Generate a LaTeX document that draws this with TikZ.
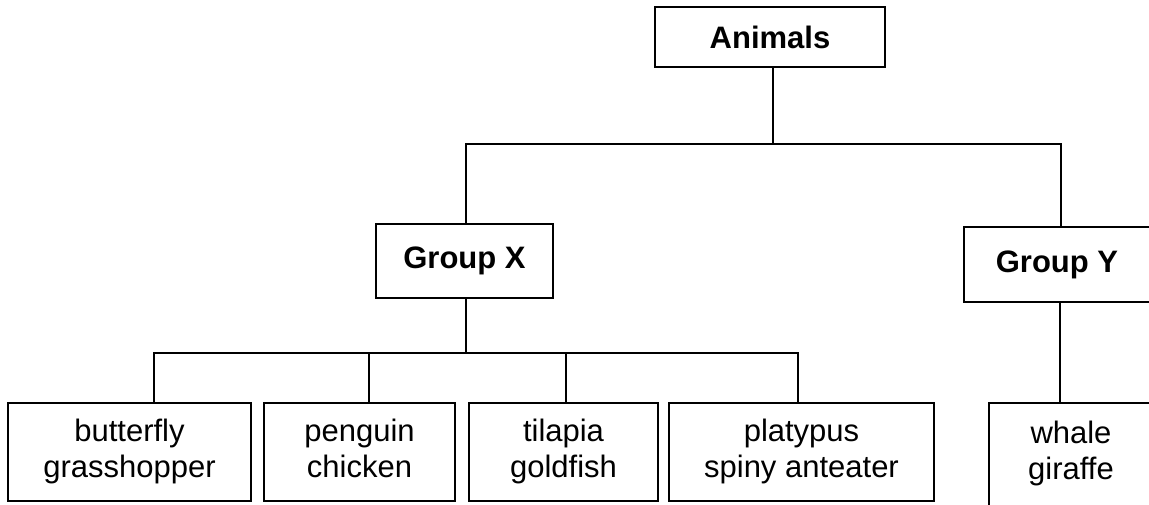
\documentclass[tikz,border=0pt]{standalone}
\usepackage{fontspec}
\setmainfont{Liberation Sans}
\begin{document}
\begin{tikzpicture}[x=1pt,y=-1pt,
  box/.style={draw, line width=1.8pt, rectangle, inner sep=0pt, align=center},
  bold/.style={box, font=\fontsize{31}{36}\selectfont\bfseries},
  leaf/.style={box, font=\fontsize{31}{36}\selectfont, minimum height=98pt},
  conn/.style={line width=1.8pt}]
\useasboundingbox (0,0) rectangle (1149,504);
\clip (0,0) rectangle (1149,504);
\fill[white] (0,0) rectangle (1149,504);
% nodes
\node[bold, minimum width=230pt, minimum height=60pt] (animals) at (770,37) {Animals};
\node[bold, minimum width=177pt, minimum height=74pt] (gx) at (464.5,261) {\raisebox{4pt}{Group X}};
\node[bold, minimum width=186pt, minimum height=75pt] (gy) at (1057,264.5) {\raisebox{4pt}{Group Y}};
\node[leaf, minimum width=243pt] (b1) at (129.5,452) {\strut butterfly\\\strut grasshopper};
\node[leaf, minimum width=191pt] (b2) at (359.5,452) {\strut penguin\\\strut chicken};
\node[leaf, minimum width=189pt] (b3) at (563.5,452) {\strut tilapia\\\strut goldfish};
\node[leaf, minimum width=265pt] (b4) at (801.5,452) {\strut platypus\\\strut spiny anteater};
\node[leaf, minimum width=164pt, minimum height=103pt] (whale) at (1071,454.5) {\strut whale\\\strut giraffe\vphantom{\rule[-5pt]{0pt}{1pt}}};
% junction coordinates
\coordinate (ja) at (773,144);
\coordinate (jl) at (466,144);
\coordinate (jr) at (1061,144);
\coordinate (jx) at (466,353);
\coordinate (c1) at (154,353);
\coordinate (c2) at (369,353);
\coordinate (c3) at (566,353);
\coordinate (c4) at (798,353);
\coordinate (cy) at (1060,353);
% connectors
\draw[conn] (animals.south -| ja) -- (ja);
\draw[conn] (gx.north -| jl) -- (jl) -- (jr) -- (gy.north -| jr);
\draw[conn] (gx.south -| jx) -- (jx);
\draw[conn] (b1.north -| c1) -- (c1) -- (c4) -- (b4.north -| c4);
\draw[conn] (c2) -- (b2.north -| c2);
\draw[conn] (c3) -- (b3.north -| c3);
\draw[conn] (gy.south -| cy) -- (whale.north -| cy);
\end{tikzpicture}
\end{document}
